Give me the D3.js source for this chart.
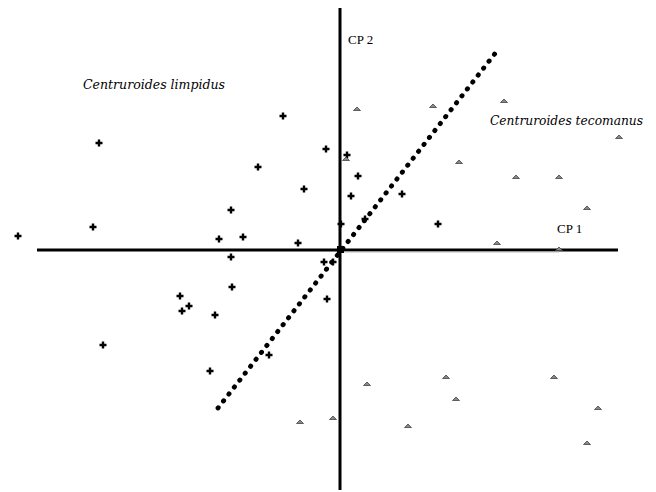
<!DOCTYPE html>
<html><head><meta charset="utf-8">
<script src="https://cdn.jsdelivr.net/npm/d3@7"></script>
<style>body{margin:0;background:#fff}svg{display:block}</style>
</head><body>
<script>
// Centruroides limpidus (plus markers): [CP1, CP2]
const limpidusCP1 = [-0.57,-2.41,-0.14,-0.82,-0.36,-1.09,-2.47,-3.22,-1.21,-0.97,-0.42,-1.09,-0.16,-0.07,-1.08,-1.60,-1.58,-1.51,-1.25,-0.13,-2.37,-0.71,-1.30,0.07,0.18,0.11,0.62,0.25,0.01,0.98];
const limpidusCP2 = [1.34,1.07,1.01,0.83,0.61,0.40,0.23,0.14,0.11,0.13,0.07,-0.07,-0.12,-0.12,-0.37,-0.46,-0.61,-0.56,-0.65,-0.49,-0.95,-1.05,-1.21,0.95,0.74,0.54,0.56,0.31,0.26,0.26];
// Centruroides tecomanus (triangle markers)
const tecomanusCP1 = [0.17,0.93,1.64,2.79,1.19,1.76,2.19,2.47,1.57,0.06,2.19,0.27,1.06,1.16,2.14,2.58,2.47,0.68,-0.40,-0.07];
const tecomanusCP2 = [1.41,1.44,1.49,1.13,0.88,0.73,0.73,0.42,0.07,0.91,0.01,-1.34,-1.27,-1.49,-1.27,-1.58,-1.93,-1.76,-1.72,-1.68];
// discriminant (dotted) line endpoints
const dividerCP1 = [-1.22, 1.57];
const dividerCP2 = [-1.58, 1.99];
const axisLabels = ["CP 1", "CP 2"];
const groupLabels = ["Centruroides limpidus", "Centruroides tecomanus"];

const W = 656, H = 492;
const svg = d3.select("body").append("svg").attr("width", W).attr("height", H);
const x = d3.scaleLinear().domain([-3.03, 2.78]).range([37, 618]);
const y = d3.scaleLinear().domain([-2.40, 2.42]).range([490, 8]);

// axes
svg.append("line").attr("x1", x(-3.03)).attr("x2", x(2.78)).attr("y1", y(0)).attr("y2", y(0))
  .attr("stroke", "#000").attr("stroke-width", 3);
svg.append("line").attr("x1", x(0)).attr("x2", x(2.19)).attr("y1", y(0) + 2).attr("y2", y(0) + 2)
  .attr("stroke", "#bbb").attr("stroke-width", 1);
svg.append("line").attr("x1", x(0)).attr("x2", x(0)).attr("y1", y(2.42)).attr("y2", y(-2.40))
  .attr("stroke", "#000").attr("stroke-width", 3);
svg.append("rect").attr("x", x(0) - 3).attr("y", y(0) - 4).attr("width", 7).attr("height", 7).attr("fill", "#000");

// dotted divider
svg.append("line")
  .attr("x1", x(dividerCP1[0])).attr("y1", y(dividerCP2[0]))
  .attr("x2", x(dividerCP1[1])).attr("y2", y(dividerCP2[1]))
  .attr("stroke", "#000").attr("stroke-width", 4.8)
  .attr("stroke-linecap", "round").attr("stroke-dasharray", "0.4 8.4");

// plus markers
const plus = d3.range(limpidusCP1.length).map(i => [limpidusCP1[i], limpidusCP2[i]]);
svg.append("g").selectAll("path").data(plus).join("path")
  .attr("d", d => { const cx = x(d[0]), cy = y(d[1]); return `M${cx-3.5},${cy}H${cx+3.5}M${cx},${cy-3.5}V${cy+3.5}`; })
  .attr("stroke", "#000").attr("stroke-width", 2.4);

// triangle markers
const tri = d3.range(tecomanusCP1.length).map(i => [tecomanusCP1[i], tecomanusCP2[i]]);
svg.append("g").selectAll("path").data(tri).join("path")
  .attr("d", d => { const cx = x(d[0]), cy = y(d[1]); return `M${cx-3.5},${cy+1.5}L${cx},${cy-2}L${cx+3.5},${cy+1.5}Z`; })
  .attr("fill", "#888").attr("stroke", "#444").attr("stroke-width", 0.8);

// labels
svg.append("text").attr("x", 348).attr("y", 44).text(axisLabels[1])
  .attr("font-family", "Liberation Serif").attr("font-size", 13);
svg.append("text").attr("x", 557).attr("y", 233).text(axisLabels[0])
  .attr("font-family", "Liberation Serif").attr("font-size", 13);
svg.append("text").attr("x", 83).attr("y", 89).text(groupLabels[0])
  .attr("font-family", "DejaVu Serif").attr("font-style", "italic").attr("font-size", 12)
  .attr("textLength", 142).attr("lengthAdjust", "spacingAndGlyphs");
svg.append("text").attr("x", 490).attr("y", 125).text(groupLabels[1])
  .attr("font-family", "DejaVu Serif").attr("font-style", "italic").attr("font-size", 12)
  .attr("textLength", 153).attr("lengthAdjust", "spacingAndGlyphs");
</script>
</body></html>
